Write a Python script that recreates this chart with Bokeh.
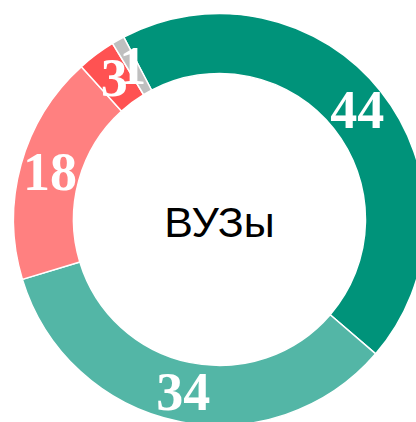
import numpy as np
from bokeh.plotting import figure
from bokeh.models import Range1d, ColumnDataSource
from bokeh.core.properties import value
from bokeh.embed import file_html
from bokeh.resources import INLINE

labels = ["44", "34", "18", "3", "1"]
values = [44, 34, 18, 3, 1]
colors = ["#00937a", "#53b6a6", "#ff8080", "#ff5252", "#bfbfbf"]
center_title = "ВУЗы"

W, H = 416, 422
p = figure(width=W, height=H, output_backend="svg", toolbar_location=None,
           x_range=Range1d(0, W), y_range=Range1d(0, H), min_border=0)
p.axis.visible = False
p.grid.visible = False
p.outline_line_color = None
p.background_fill_color = "white"

cx, cy = 219, H - 219
r_in, r_out = 146, 206
start = np.deg2rad(117.7)
vals = np.array(values, dtype=float)
frac = vals / vals.sum()
cum = np.concatenate([[0], np.cumsum(frac)])
a0 = start - cum[:-1] * 2 * np.pi
a1 = start - cum[1:] * 2 * np.pi
mid = (a0 + a1) / 2
r_lab = 176

src = ColumnDataSource(dict(
    s=a1, e=a0, color=colors, label=labels,
    lx=cx + r_lab * np.cos(mid), ly=cy + r_lab * np.sin(mid),
))
p.annular_wedge(x=cx, y=cy, inner_radius=r_in, outer_radius=r_out,
                start_angle="s", end_angle="e", fill_color="color",
                line_color="white", line_width=1.5, source=src)
p.text(x="lx", y="ly", text="label", source=src, text_color="white",
       text_font=value("Liberation Serif"), text_font_style="bold",
       text_font_size="54px", text_align="center", text_baseline="middle")
p.text(x=[cx], y=[cy - 2], text=[center_title], text_color="black",
       text_font=value("Liberation Sans"), text_font_size="43px",
       text_align="center", text_baseline="middle")

open("out.html", "w").write(file_html(p, INLINE))
